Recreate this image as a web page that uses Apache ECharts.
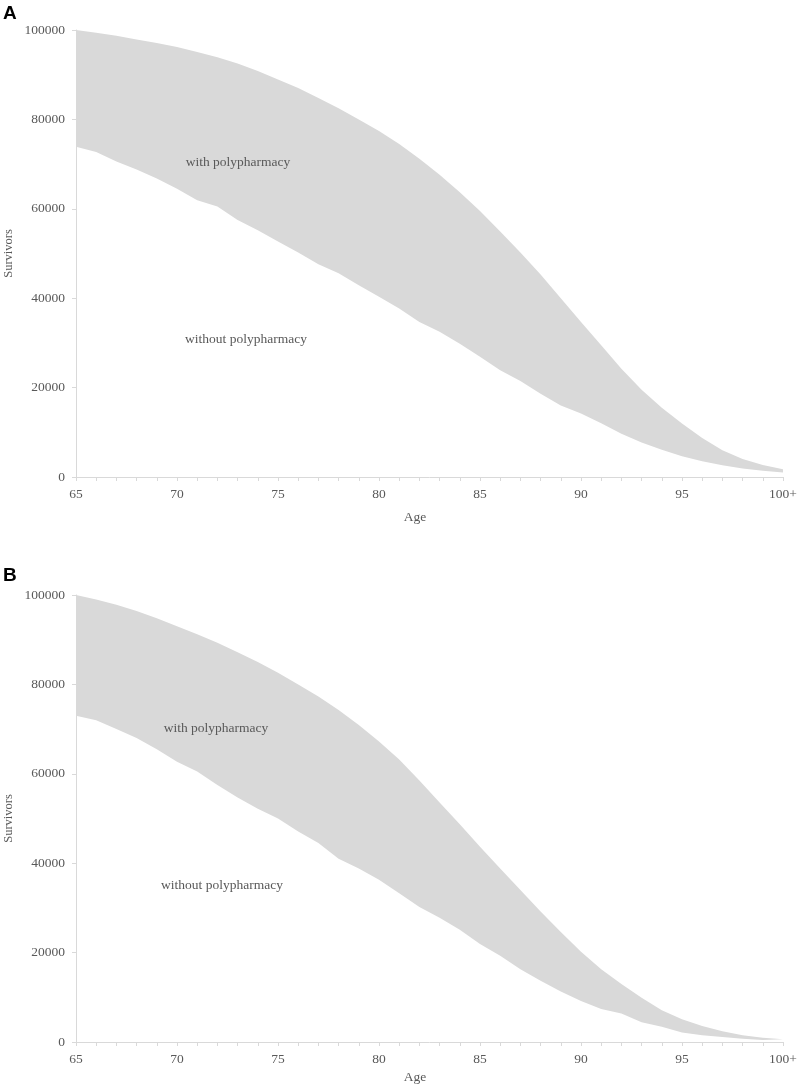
<!DOCTYPE html>
<html>
<head>
<meta charset="utf-8">
<script src="https://cdn.jsdelivr.net/npm/echarts@6/dist/echarts.min.js"></script>
<style>
html,body{margin:0;padding:0;background:#fff;}
#chart{width:799px;height:1086px;}
</style>
</head>
<body>
<div id="chart"></div>
<script>
var ages = ['65','66','67','68','69','70','71','72','73','74','75','76','77','78','79','80','81','82','83','84','85','86','87','88','89','90','91','92','93','94','95','96','97','98','99','100+'];
var yTicks = [0, 20000, 40000, 60000, 80000, 100000];

// Panel A
var upperA = [100000,99400,98700,97900,97100,96200,95100,93900,92500,90800,88900,87000,84800,82500,80000,77400,74500,71200,67600,63700,59500,54900,50200,45300,40000,34700,29500,24200,19500,15500,11950,8700,5980,4000,2700,1720];
var lowerA = [73900,72700,70600,68800,66800,64500,61900,60500,57500,55200,52700,50200,47600,45600,42900,40300,37700,34700,32500,29800,26900,23900,21500,18600,16000,14200,12000,9700,7700,6100,4630,3500,2620,1900,1400,985];

// Panel B
var upperB = [100000,99000,97800,96400,94800,93000,91200,89300,87200,85000,82600,80000,77300,74300,70900,67200,63200,58500,53600,48700,43700,38800,34000,29200,24600,20200,16300,13000,9900,7100,5100,3600,2400,1500,950,600];
var lowerB = [73000,72000,70000,68000,65500,62700,60500,57500,54700,52200,50000,47100,44500,41000,38800,36300,33300,30200,27800,25100,21900,19300,16300,13700,11300,9200,7400,6400,4400,3400,2100,1500,1100,700,450,300];

var txt = '#595959';
var axisCol = '#d9d9d9';
var fill = '#d9d9d9';
var serif = '"Liberation Serif", "Times New Roman", serif';

function diff(u, l) { return u.map(function (v, i) { return v - l[i]; }); }

function xAxis(gi) {
  return {
    type: 'category', gridIndex: gi, data: ages, boundaryGap: false,
    axisLine: {show: true, lineStyle: {color: axisCol, width: 1}},
    axisTick: {show: true, interval: 0, length: 4, lineStyle: {color: axisCol}},
    axisLabel: {interval: 4, color: txt, fontFamily: serif, fontSize: 13.5, margin: 10},
    splitLine: {show: false}
  };
}
function yAxis(gi) {
  return {
    type: 'value', gridIndex: gi, min: 0, max: 100000, interval: 20000,
    name: 'Survivors', nameLocation: 'middle', nameGap: 61, nameMoveOverlap: false,
    nameTextStyle: {color: txt, fontFamily: serif, fontSize: 12.5},
    axisLine: {show: true, lineStyle: {color: axisCol, width: 1}},
    axisTick: {show: true, length: 4, lineStyle: {color: axisCol}},
    axisLabel: {color: txt, fontFamily: serif, fontSize: 13.5, margin: 11,
      formatter: function (v) { return String(v); }},
    splitLine: {show: false}
  };
}
function pair(idx, upper, lower, stack) {
  return [
    {type: 'line', xAxisIndex: idx, yAxisIndex: idx, stack: stack, data: lower,
     symbol: 'none', lineStyle: {width: 0, opacity: 0}, silent: true},
    {type: 'line', xAxisIndex: idx, yAxisIndex: idx, stack: stack, data: diff(upper, lower),
     symbol: 'none', lineStyle: {width: 0, opacity: 0}, areaStyle: {color: fill, opacity: 1}, silent: true}
  ];
}

function label(x, y, t) {
  return {type: 'text', x: x, y: y, z: 100, zlevel: 1,
    style: {text: t, font: '13.5px ' + serif, fill: txt, align: 'center', verticalAlign: 'middle'}};
}

var chart = echarts.init(document.getElementById('chart'), null, {renderer: 'canvas'});
chart.setOption({
  animation: false,
  backgroundColor: '#fff',
  grid: [
    {left: 76, right: 16, top: 30, height: 447, containLabel: false, outerBoundsMode: 'none'},
    {left: 76, right: 16, top: 595, height: 447, containLabel: false, outerBoundsMode: 'none'}
  ],
  xAxis: [xAxis(0), xAxis(1)],
  yAxis: [yAxis(0), yAxis(1)],
  series: pair(0, upperA, lowerA, 'A').concat(pair(1, upperB, lowerB, 'B')),
  graphic: [
    {type: 'text', left: 3, top: 4, z: 100, style: {text: 'A', font: 'bold 19px "Liberation Sans", Arial, sans-serif', fill: '#000'}},
    {type: 'text', left: 3, top: 566, z: 100, style: {text: 'B', font: 'bold 19px "Liberation Sans", Arial, sans-serif', fill: '#000'}},
    label(238, 162, 'with polypharmacy'),
    label(246, 339, 'without polypharmacy'),
    label(216, 728, 'with polypharmacy'),
    label(222, 885, 'without polypharmacy'),
    label(415, 517, 'Age'),
    label(415, 1077, 'Age')
  ]
});
</script>
</body>
</html>
